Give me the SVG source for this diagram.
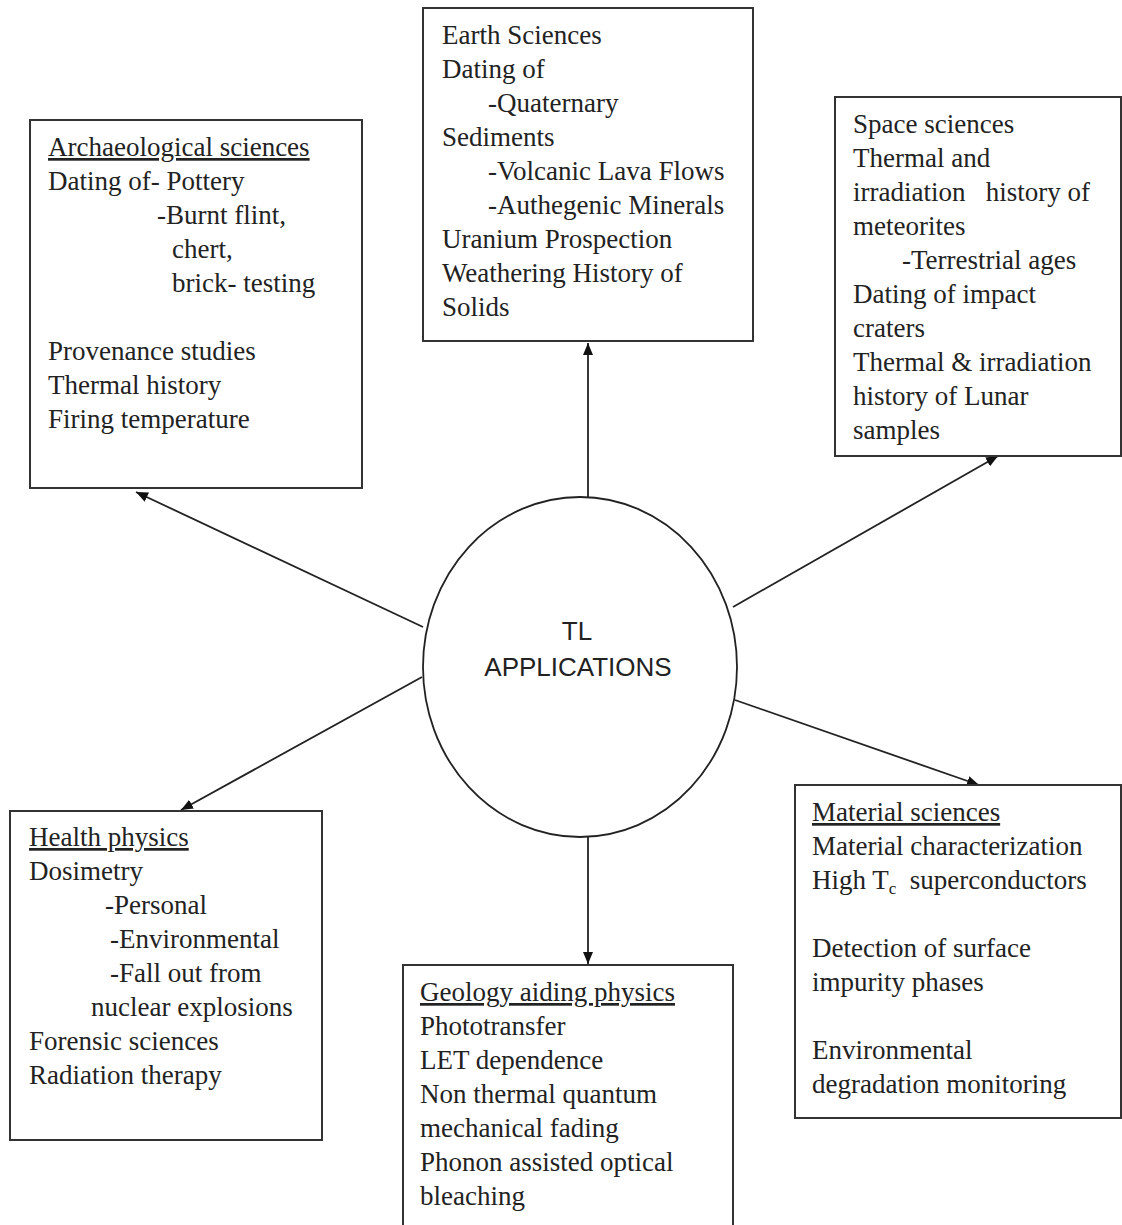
<svg xmlns="http://www.w3.org/2000/svg" width="1122" height="1225" viewBox="0 0 1122 1225">
<defs>
<style>
.box{fill:#fff;stroke:#333;stroke-width:2}
.t{font-family:"Liberation Serif","Times New Roman",serif;font-size:27px;fill:#222}
.u{text-decoration:underline}
.c{font-family:"Liberation Sans",Arial,sans-serif;font-size:26px;fill:#222;text-anchor:middle}
.con{stroke:#222;stroke-width:1.8;fill:none;marker-end:url(#ah)}
</style>
<marker id="ah" markerUnits="userSpaceOnUse" markerWidth="13" markerHeight="10" refX="12" refY="5" orient="auto">
<path d="M0,0 L12,5 L0,10 z" fill="#111"/>
</marker>
</defs>
<rect width="1122" height="1225" fill="#fff"/>

<g id="connectors">
<line class="con" x1="588" y1="497" x2="588" y2="343"/>
<line class="con" x1="423" y1="627" x2="136" y2="492"/>
<line class="con" x1="733" y1="607" x2="998" y2="456"/>
<line class="con" x1="422" y1="677" x2="181" y2="810"/>
<line class="con" x1="735" y1="700" x2="979" y2="785"/>
<line class="con" x1="588" y1="837" x2="588" y2="964"/>
</g>

<g id="center">
<ellipse cx="580" cy="667" rx="157" ry="170" fill="#fff" stroke="#222" stroke-width="1.8"/>
<text class="c" x="577" y="640">TL</text>
<text class="c" x="578" y="676">APPLICATIONS</text>
</g>

<g id="archaeological">
<rect class="box" x="30" y="120" width="332" height="368"/>
<text class="t u" x="48" y="156">Archaeological sciences</text>
<text class="t" x="48" y="190">Dating of- Pottery</text>
<text class="t" x="157" y="224">-Burnt flint,</text>
<text class="t" x="172" y="258">chert,</text>
<text class="t" x="172" y="292">brick- testing</text>
<text class="t" x="48" y="360">Provenance studies</text>
<text class="t" x="48" y="394">Thermal history</text>
<text class="t" x="48" y="428">Firing temperature</text>
</g>

<g id="earth">
<rect class="box" x="423" y="8" width="330" height="333"/>
<text class="t" x="442" y="44">Earth Sciences</text>
<text class="t" x="442" y="78">Dating of</text>
<text class="t" x="488" y="112">-Quaternary</text>
<text class="t" x="442" y="146">Sediments</text>
<text class="t" x="488" y="180">-Volcanic Lava Flows</text>
<text class="t" x="488" y="214">-Authegenic Minerals</text>
<text class="t" x="442" y="248">Uranium Prospection</text>
<text class="t" x="442" y="282">Weathering History of</text>
<text class="t" x="442" y="316">Solids</text>
</g>

<g id="space">
<rect class="box" x="835" y="97" width="286" height="359"/>
<text class="t" x="853" y="133">Space sciences</text>
<text class="t" x="853" y="167">Thermal and</text>
<text class="t" x="853" y="201" xml:space="preserve">irradiation   history of</text>
<text class="t" x="853" y="235">meteorites</text>
<text class="t" x="902" y="269">-Terrestrial ages</text>
<text class="t" x="853" y="303">Dating of impact</text>
<text class="t" x="853" y="337">craters</text>
<text class="t" x="853" y="371">Thermal &amp; irradiation</text>
<text class="t" x="853" y="405">history of Lunar</text>
<text class="t" x="853" y="439">samples</text>
</g>

<g id="health">
<rect class="box" x="10" y="811" width="312" height="329"/>
<text class="t u" x="29" y="846">Health physics</text>
<text class="t" x="29" y="880">Dosimetry</text>
<text class="t" x="105" y="914">-Personal</text>
<text class="t" x="110" y="948">-Environmental</text>
<text class="t" x="110" y="982">-Fall out from</text>
<text class="t" x="91" y="1016">nuclear explosions</text>
<text class="t" x="29" y="1050">Forensic sciences</text>
<text class="t" x="29" y="1084">Radiation therapy</text>
</g>

<g id="geology">
<rect class="box" x="403" y="965" width="330" height="270"/>
<text class="t u" x="420" y="1001">Geology aiding physics</text>
<text class="t" x="420" y="1035">Phototransfer</text>
<text class="t" x="420" y="1069">LET dependence</text>
<text class="t" x="420" y="1103">Non thermal quantum</text>
<text class="t" x="420" y="1137">mechanical fading</text>
<text class="t" x="420" y="1171">Phonon assisted optical</text>
<text class="t" x="420" y="1205">bleaching</text>
</g>

<g id="material">
<rect class="box" x="795" y="785" width="326" height="333"/>
<text class="t u" x="812" y="821">Material sciences</text>
<text class="t" x="812" y="855">Material characterization</text>
<text class="t" x="812" y="889" xml:space="preserve">High T<tspan font-size="17" dy="5">c</tspan><tspan dy="-5">  superconductors</tspan></text>
<text class="t" x="812" y="957">Detection of surface</text>
<text class="t" x="812" y="991">impurity phases</text>
<text class="t" x="812" y="1059">Environmental</text>
<text class="t" x="812" y="1093">degradation monitoring</text>
</g>
</svg>
